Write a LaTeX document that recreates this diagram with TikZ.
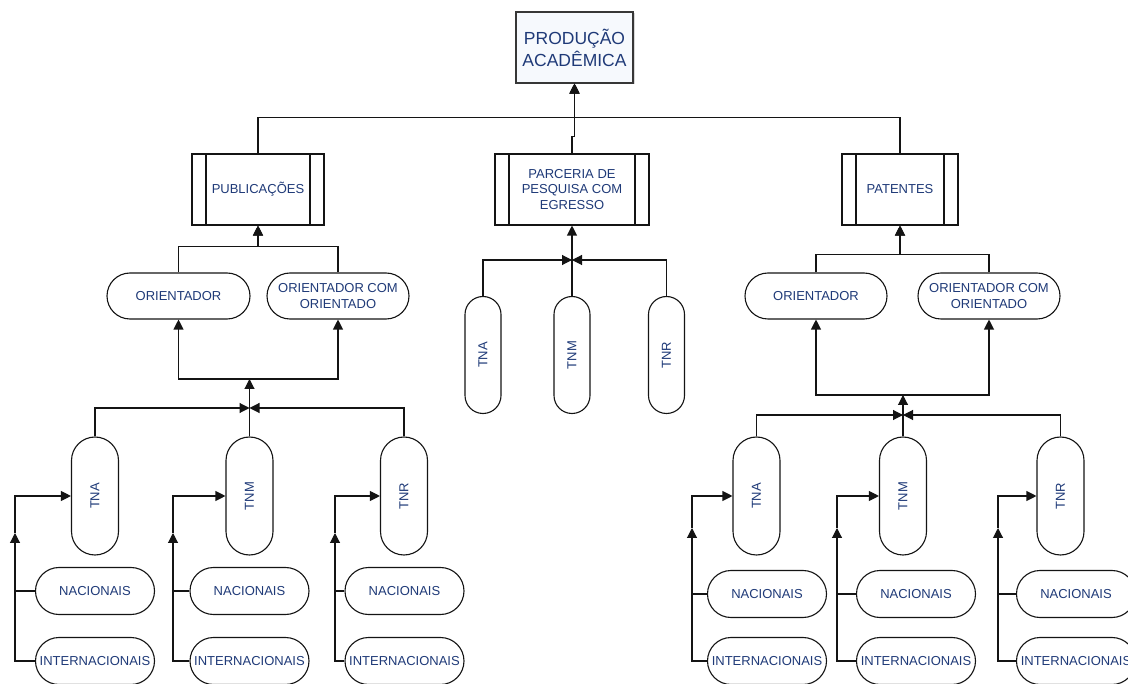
\documentclass[tikz,border=0pt]{standalone}
\usepackage{fontspec}
\setmainfont{Liberation Sans}
\usetikzlibrary{arrows.meta,shadows,calc}
\definecolor{txtblue}{HTML}{1F3A78}
\definecolor{edge}{HTML}{141414}
\definecolor{topfill}{HTML}{F6F9FD}

\begin{document}
\begin{tikzpicture}[x=1pt,y=-1pt,
  line width=1.1pt, draw=edge,
  label/.style={text=txtblue, font=\fontsize{13}{15.5}\selectfont, inner sep=0pt, align=center},
  topbox/.style={label, draw=edge!85, fill=topfill, minimum width=117pt, minimum height=71pt,
    font=\fontsize{17.5}{22}\selectfont,
    drop shadow={shadow xshift=1.5pt, shadow yshift=-1.5pt, opacity=0.3, fill=gray}},
  procbox/.style={label, draw=edge, fill=white, minimum height=71pt,
    path picture={
      \draw[line width=1.1pt] ([xshift=14pt]path picture bounding box.north west) -- ([xshift=14pt]path picture bounding box.south west);
      \draw[line width=1.1pt] ([xshift=-14pt]path picture bounding box.north east) -- ([xshift=-14pt]path picture bounding box.south east);}},
  pill/.style={label, draw=edge, fill=white, rounded corners=23.5pt, minimum width=119pt, minimum height=47pt},
  wpill/.style={label, draw=edge, fill=white, rounded corners=23pt, minimum width=142pt, minimum height=46pt},
  vpill/.style={label, draw=edge, fill=white, rounded corners=23.5pt, minimum width=47pt, minimum height=118pt},
  npill/.style={label, draw=edge, fill=white, rounded corners=18pt, minimum width=36pt, minimum height=117pt},
  arr/.style={-{Triangle[length=10pt,width=10pt]}}
]
\useasboundingbox (0,0) rectangle (1128,684);
\fill[white] (0,0) rectangle (1128,684);

% root and the three main branches
\node[topbox] (top) at (574.5,47.5) {PRODUÇÃO\\ACADÊMICA};
\node[procbox, minimum width=132pt] (pub) at (258,189.5) {PUBLICAÇÕES};
\node[procbox, minimum width=154pt] (par) at (572,189.5) {PARCERIA DE\\PESQUISA COM\\EGRESSO};
\node[procbox, minimum width=116pt] (pat) at (900,189.5) {PATENTES};

\draw[arr] (pub.north) -- ++(0,-36) -| (top.south);
\draw[arr] (pat.north) -- ++(0,-36) -| (top.south);
\draw[arr] (par.north) -- ++(0,-17) -| (top.south);

% ---------------- publications ----------------
\node[wpill, minimum width=143pt] (oL1) at (178.5,296) {ORIENTADOR};
\node[wpill] (oL2) at (338,296) {ORIENTADOR COM\\ORIENTADO};
\draw[arr] (oL1.north) -- ++(0,-26) -| (pub.south);
\draw[arr] (oL2.north) -- ++(0,-26) -| (pub.south);

\node[vpill] (tL1) at (95,496) {\rotatebox{90}{TNA}};
\node[vpill] (tL2) at (249.5,496) {\rotatebox{90}{TNM}};
\node[vpill] (tL3) at (404,496) {\rotatebox{90}{TNR}};

\coordinate (jL) at (249.5,408);
\coordinate (bL) at (249.5,379);
\draw[arr] (tL1.north) |- (jL);
\draw[arr] (tL3.north) |- (jL);
\draw (tL2.north) -- (jL);
\draw[arr] (jL) -- (bL);
\draw[arr] (bL) -| (oL1.south);
\draw[arr] (bL) -| (oL2.south);

\foreach \i/\cx/\lx in {1/95/15, 2/249.5/173, 3/404.5/335} {
  \node[pill] (nL\i) at (\cx,591) {NACIONAIS};
  \node[pill] (iL\i) at (\cx,661) {INTERNACIONAIS};
  \coordinate (kL\i) at (\lx,533);
  \draw (nL\i.west) -- (nL\i.west -| kL\i);
  \draw[arr] (iL\i.west) -| (kL\i);
  \draw[arr] (kL\i) |- (tL\i.west);
}

% ---------------- research partnership ----------------
\node[npill] (tM1) at (483,355) {\rotatebox{90}{TNA}};
\node[npill] (tM2) at (572,355) {\rotatebox{90}{TNM}};
\node[npill] (tM3) at (666.5,355) {\rotatebox{90}{TNR}};
\coordinate (jM) at (572,260);
\draw[arr] (tM1.north) |- (jM);
\draw[arr] (tM3.north) |- (jM);
\draw (tM2.north) -- (jM);
\draw[arr] (jM) -- (par.south);

% ---------------- patents ----------------
\node[wpill] (oR1) at (816,296) {ORIENTADOR};
\node[wpill] (oR2) at (989,296) {ORIENTADOR COM\\ORIENTADO};
\draw[arr] (oR1.north) -- ++(0,-18) -| (pat.south);
\draw[arr] (oR2.north) -- ++(0,-18) -| (pat.south);

\node[vpill] (tR1) at (756.5,496) {\rotatebox{90}{TNA}};
\node[vpill] (tR2) at (903,496) {\rotatebox{90}{TNM}};
\node[vpill] (tR3) at (1060.5,496) {\rotatebox{90}{TNR}};

\coordinate (jR) at (903,415);
\coordinate (bR) at (903,395);
\draw[arr] (tR1.north) |- (jR);
\draw[arr] (tR3.north) |- (jR);
\draw (tR2.north) -- (jR);
\draw[arr] (jR) -- (bR);
\draw[arr] (bR) -| (oR1.south);
\draw[arr] (bR) -| (oR2.south);

\foreach \i/\cx/\lx in {1/767/692, 2/916/837, 3/1076/998} {
  \node[pill] (nR\i) at (\cx,594) {NACIONAIS};
  \node[pill] (iR\i) at (\cx,661) {INTERNACIONAIS};
  \coordinate (kR\i) at (\lx,528);
  \draw (nR\i.west) -- (nR\i.west -| kR\i);
  \draw[arr] (iR\i.west) -| (kR\i);
  \draw[arr] (kR\i) |- (tR\i.west);
}
\end{tikzpicture}
\end{document}
